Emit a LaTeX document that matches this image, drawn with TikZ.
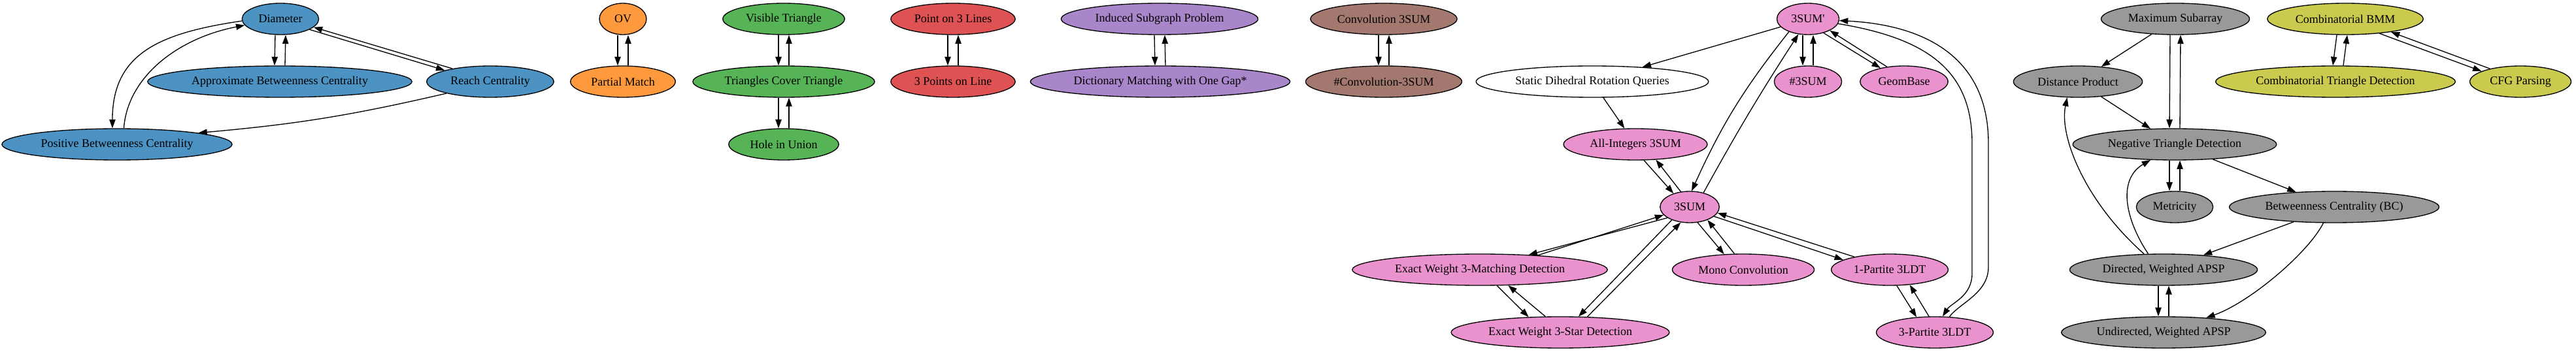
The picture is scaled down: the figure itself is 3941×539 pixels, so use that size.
\documentclass[tikz,border=0pt]{standalone}
\usepackage{fontspec}
\setmainfont{Liberation Serif}[Ligatures=TeXOff]
\usepackage{tikz}
\usetikzlibrary{shapes,arrows.meta}
\definecolor{tabblue}{HTML}{1F77B4}
\definecolor{taborange}{HTML}{FF7F0E}
\definecolor{tabgreen}{HTML}{2CA02C}
\definecolor{tabred}{HTML}{D62728}
\definecolor{tabpurple}{HTML}{9467BD}
\definecolor{tabbrown}{HTML}{8C564B}
\definecolor{tabpink}{HTML}{E377C2}
\definecolor{tabgray}{HTML}{7F7F7F}
\definecolor{tabolive}{HTML}{BCBD22}

\begin{document}
\begin{tikzpicture}[knoten/.style={draw, ellipse, minimum height=36pt, minimum width=54pt, inner xsep=6pt, inner ysep=2pt, fill=#1!80}, x=0.75pt, y=0.75pt,
			>={Triangle[length=10pt,width=7pt]},   %Pfeilspitzen wie bei dot
			line width=1pt, font=\fontsize{13.5}{16}\selectfont]
			\useasboundingbox (0,0) rectangle (3941,539);
			%Knoten: Zeile 1
			\node[knoten=tabblue] (dia) at (429,510) {Diameter};
			\node[knoten=taborange] (ov) at (953,510) {OV};
			\node[knoten=tabgreen] (vt) at (1199,510) {Visible Triangle};
			\node[knoten=tabred] (pl) at (1458,510) {Point on 3 Lines};
			\node[knoten=tabpurple] (isp) at (1774,510) {Induced Subgraph Problem};
			\node[knoten=tabbrown] (cv) at (2117,510) {Convolution 3SUM};
			\node[knoten=tabpink] (tsp) at (2766,510) {3SUM'};
			\node[knoten=tabgray] (ms) at (3328,510) {Maximum Subarray};
			\node[knoten=tabolive] (cbmm) at (3588,510) {Combinatorial BMM};
			%Zeile 2
			\node[knoten=tabblue] (abc) at (428,414) {Approximate Betweenness Centrality};
			\node[knoten=tabblue] (rc) at (750,414) {Reach Centrality};
			\node[knoten=taborange] (pm) at (953,414) {Partial Match};
			\node[knoten=tabgreen] (tct) at (1199,414) {Triangles Cover Triangle};
			\node[knoten=tabred] (tp) at (1458,414) {3 Points on Line};
			\node[knoten=tabpurple] (dmg) at (1775,414) {Dictionary Matching with One Gap*};
			\node[knoten=tabbrown] (ncv) at (2117,414) {\#Convolution-3SUM};
			\node[knoten=white] (sdr) at (2436,414) {Static Dihedral Rotation Queries};
			\node[knoten=tabpink] (nts) at (2766,414) {\#3SUM};
			\node[knoten=tabpink] (gb) at (2913,414) {GeomBase};
			\node[knoten=tabgray] (dp) at (3179,414) {Distance Product};
			\node[knoten=tabolive] (ctd) at (3573,414) {Combinatorial Triangle Detection};
			\node[knoten=tabolive] (cfg) at (3856,414) {CFG Parsing};
			%Zeile 3
			\node[knoten=tabblue] (pbc) at (179,318) {Positive Betweenness Centrality};
			\node[knoten=tabgreen] (hiu) at (1199,318) {Hole in Union};
			\node[knoten=tabpink] (ai) at (2502,318) {All-Integers 3SUM};
			\node[knoten=tabgray] (ntd) at (3327,318) {Negative Triangle Detection};
			%Zeile 4
			\node[knoten=tabpink] (ts) at (2585,222) {3SUM};
			\node[knoten=tabgray] (met) at (3327,222) {Metricity};
			\node[knoten=tabgray] (bc) at (3571,222) {Betweenness Centrality (BC)};
			%Zeile 5
			\node[knoten=tabpink] (ewm) at (2264,126) {Exact Weight 3-Matching Detection};
			\node[knoten=tabpink] (mc) at (2667,126) {Mono Convolution};
			\node[knoten=tabpink] (lone) at (2891,126) {1-Partite 3LDT};
			\node[knoten=tabgray] (dapsp) at (3310,126) {Directed, Weighted APSP};
			%Zeile 6
			\node[knoten=tabpink] (ews) at (2387,30) {Exact Weight 3-Star Detection};
			\node[knoten=tabpink] (lthree) at (2960,30) {3-Partite 3LDT};
			\node[knoten=tabgray] (uapsp) at (3310,30) {Undirected, Weighted APSP};
			%senkrechte Doppelkanten
			\foreach \a/\b in {dia/abc, ov/pm, vt/tct, tct/hiu, pl/tp, isp/dmg, cv/ncv, tsp/nts, ms/ntd, ntd/met, dapsp/uapsp} {
				\draw[->] ([xshift=-6pt]\a.south) -- ([xshift=-6pt]\b.north);
				\draw[->] ([xshift=6pt]\b.north) -- ([xshift=6pt]\a.south);
			}
			\draw[->] ([xshift=-9.75pt]cbmm.south) -- ([xshift=-3pt]ctd.north);
			\draw[->] ([xshift=9pt]ctd.north) -- ([xshift=2.25pt]cbmm.south);
			%einfache Kanten
			\foreach \a/\b in {tsp/sdr, sdr/ai, ms/dp, dp/ntd, ntd/bc, bc/dapsp} \draw[->] (\a) -- (\b);
			%schraege Doppelkanten
			\draw[->] (dia.-20) -- (rc.166);
			\draw[->] (rc.161) -- (dia.-14);
			\draw[->] (tsp.-42) -- (gb.150);
			\draw[->] (gb.139) -- (tsp.-28);
			\draw[->] (ai.-62) -- (ts.140);
			\draw[->] (ts.120) -- (ai.-37);
			\draw[->] (ts.206) -- (ewm.17);
			\draw[->] (ewm.14) -- (ts.197);
			\draw[->] (ts.216) -- (ews.41);
			\draw[->] (ews.30) -- (ts.240);
			\draw[->] (ts.-63) -- (mc.141);
			\draw[->] (mc.119) -- (ts.-36);
			\draw[->] (ts.-21) -- (lone.168);
			\draw[->] (lone.160) -- (ts.-12);
			\draw[->] (ewm.-43) -- (ews.154);
			\draw[->] (ews.133) -- (ewm.-29);
			\draw[->] (lone.-66) -- (lthree.140);
			\draw[->] (lthree.110) -- (lone.-37);
			\draw[->] (cbmm.-23) -- (cfg.165);
			\draw[->] (cfg.157) -- (cbmm.-16);
			%Boegen
			\draw[->] (dia.183) .. controls (240,488) and (172,455) .. (pbc.106);
			\draw[->] (pbc.67) .. controls (195,420) and (270,480) .. (dia.190);
			\draw[->] (rc.195) to[bend left=4] (pbc.8);
			\draw[->] (tsp.214) to[bend right=7] (ts.83);
			\draw[->] (ts.46) to[bend left=2] (tsp.238);
			\draw[->] (tsp.-9) .. controls (2950,480) and (3017,430) .. (3017,320) -- (3017,120) .. controls (3017,85) and (2985,75) .. (lthree.64);
			\draw[->] (lthree.47) .. controls (2998,75) and (3042,90) .. (3042,130) -- (3042,320) .. controls (3042,440) and (2960,500) .. (tsp.-3);
			\draw[->] (dapsp.141) .. controls (3190,230) and (3150,330) .. (dp.236);
			\draw[->] (dapsp.134) .. controls (3250,205) and (3240,265) .. (ntd.213);
			\draw[->] (bc.236) .. controls (3530,150) and (3440,75) .. (uapsp.19);
		\end{tikzpicture}
\end{document}
